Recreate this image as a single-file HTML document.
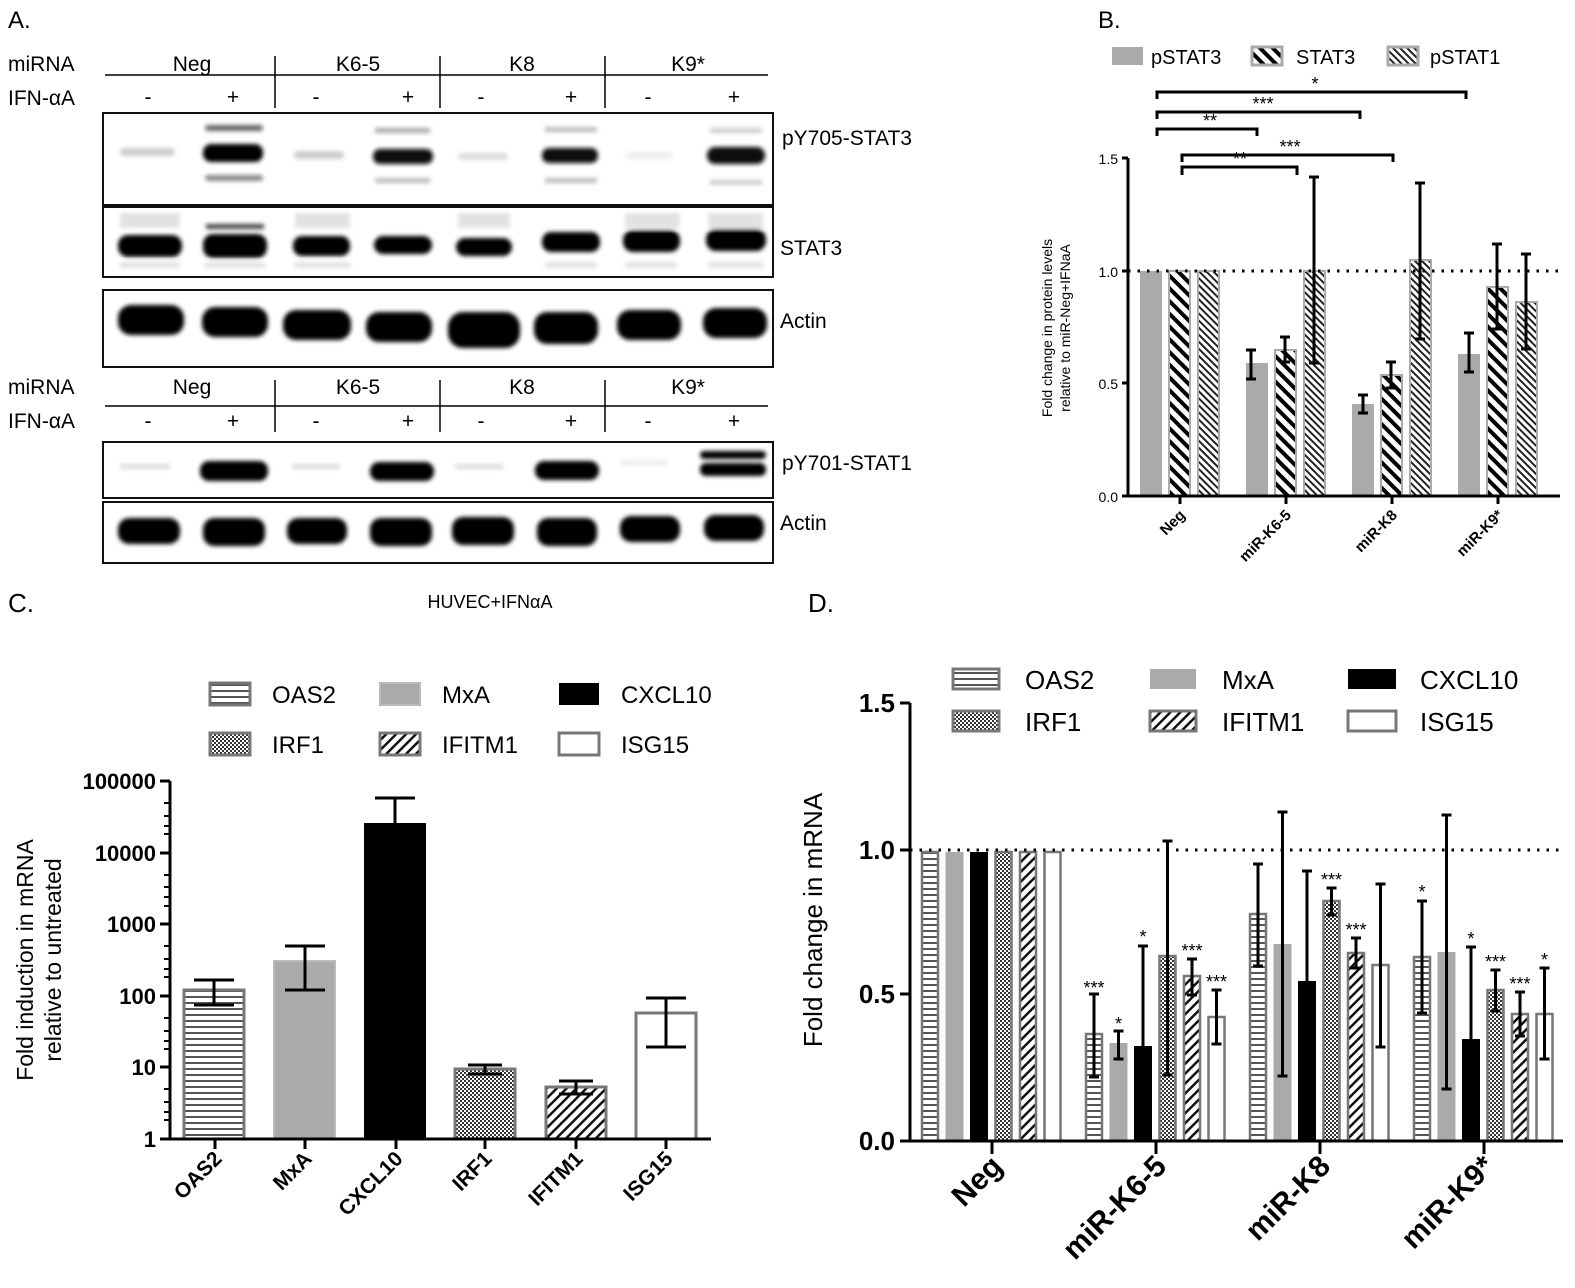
<!DOCTYPE html>
<html><head><meta charset="utf-8"><style>body{margin:0;background:#fff}svg{display:block}text{font-family:"Liberation Sans",sans-serif}</style></head><body>
<svg width="1575" height="1288" viewBox="0 0 1575 1288" xmlns="http://www.w3.org/2000/svg">
<defs>
<filter id="bl" x="-20%" y="-50%" width="140%" height="200%"><feGaussianBlur stdDeviation="2.2"/></filter>
<pattern id="hz" width="8" height="6" patternUnits="userSpaceOnUse"><rect width="8" height="6" fill="#fff"/><rect y="0" width="8" height="2" fill="#555"/></pattern>
<pattern id="ck" width="4" height="4" patternUnits="userSpaceOnUse"><rect width="4" height="4" fill="#fff"/><rect width="2" height="2" fill="#333"/><rect x="2" y="2" width="2" height="2" fill="#333"/></pattern>
<pattern id="dg" width="7" height="7" patternUnits="userSpaceOnUse" patternTransform="rotate(45)"><rect width="7" height="7" fill="#fff"/><rect width="2.5" height="7" fill="#111"/></pattern>
<pattern id="bd" width="9" height="9" patternUnits="userSpaceOnUse" patternTransform="rotate(-45)"><rect width="9" height="9" fill="#fff"/><rect width="4" height="9" fill="#000"/></pattern>
<pattern id="bd2" width="5" height="5" patternUnits="userSpaceOnUse" patternTransform="rotate(-45)"><rect width="5" height="5" fill="#fff"/><rect width="2" height="5" fill="#222"/></pattern>
</defs>

<!-- Panel A -->
<text x="8" y="28" font-size="24">A.</text>
<g font-size="21">
<text x="8" y="71">miRNA</text><text x="8" y="105">IFN-αA</text>
<text x="192" y="71" text-anchor="middle">Neg</text><text x="358" y="71" text-anchor="middle">K6-5</text><text x="522" y="71" text-anchor="middle">K8</text><text x="688" y="71" text-anchor="middle">K9*</text>
<g text-anchor="middle"><text x="148" y="104">-</text><text x="233" y="104">+</text><text x="316" y="104">-</text><text x="408" y="104">+</text><text x="481" y="104">-</text><text x="571" y="104">+</text><text x="648" y="104">-</text><text x="734" y="104">+</text></g>
<text x="8" y="394">miRNA</text><text x="8" y="428">IFN-αA</text>
<text x="192" y="394" text-anchor="middle">Neg</text><text x="358" y="394" text-anchor="middle">K6-5</text><text x="522" y="394" text-anchor="middle">K8</text><text x="688" y="394" text-anchor="middle">K9*</text>
<g text-anchor="middle"><text x="148" y="428">-</text><text x="233" y="428">+</text><text x="316" y="428">-</text><text x="408" y="428">+</text><text x="481" y="428">-</text><text x="571" y="428">+</text><text x="648" y="428">-</text><text x="734" y="428">+</text></g>
<text x="782" y="145">pY705-STAT3</text><text x="780" y="255">STAT3</text><text x="780" y="328">Actin</text><text x="782" y="470">pY701-STAT1</text><text x="780" y="530">Actin</text>
</g>
<g stroke="#000" stroke-width="1.5">
<line x1="105" y1="75" x2="768" y2="75"/><line x1="275" y1="56" x2="275" y2="108"/><line x1="440" y1="56" x2="440" y2="108"/><line x1="605" y1="56" x2="605" y2="108"/>
<line x1="105" y1="406" x2="768" y2="406"/><line x1="275" y1="380" x2="275" y2="432"/><line x1="440" y1="380" x2="440" y2="432"/><line x1="605" y1="380" x2="605" y2="432"/>
</g>
<g fill="none" stroke="#111" stroke-width="2">
<rect x="103" y="113" width="670" height="92"/><rect x="103" y="207" width="670" height="70"/><rect x="103" y="290" width="670" height="77"/><rect x="103" y="442" width="670" height="56"/><rect x="103" y="502" width="670" height="61"/>
</g>
<g filter="url(#bl)">
<rect x="120" y="148" width="55" height="8" rx="4" fill="#ccc"/>
<rect x="203" y="144" width="60" height="18" rx="8" fill="#000"/><rect x="205" y="125" width="58" height="6" rx="3" fill="#666"/><rect x="205" y="175" width="58" height="6" rx="3" fill="#888"/>
<rect x="294" y="151" width="50" height="8" rx="4" fill="#ccc"/>
<rect x="373" y="149" width="60" height="15" rx="7" fill="#111"/><rect x="375" y="128" width="55" height="5" fill="#aaa"/><rect x="375" y="178" width="55" height="5" fill="#bbb"/>
<rect x="458" y="153" width="50" height="7" rx="4" fill="#ddd"/>
<rect x="542" y="148" width="56" height="15" rx="7" fill="#111"/><rect x="545" y="127" width="52" height="5" fill="#bbb"/><rect x="545" y="178" width="52" height="5" fill="#bbb"/>
<rect x="625" y="152" width="48" height="7" rx="4" fill="#eee"/>
<rect x="707" y="147" width="58" height="17" rx="8" fill="#111"/><rect x="710" y="128" width="52" height="5" fill="#ccc"/><rect x="710" y="180" width="52" height="5" fill="#ccc"/>
</g>
<g filter="url(#bl)">
<g fill="#e2e2e2"><rect x="120" y="213" width="60" height="15"/><rect x="295" y="213" width="55" height="15"/><rect x="458" y="213" width="52" height="15"/><rect x="625" y="213" width="55" height="15"/><rect x="708" y="213" width="55" height="15"/><rect x="120" y="262" width="60" height="6"/><rect x="205" y="262" width="60" height="6"/><rect x="295" y="262" width="55" height="6"/><rect x="545" y="262" width="52" height="6"/><rect x="625" y="262" width="52" height="6"/><rect x="708" y="262" width="55" height="6"/></g>
<rect x="118" y="235" width="64" height="22" rx="10" fill="#000"/><rect x="203" y="234" width="64" height="24" rx="10" fill="#000"/><rect x="206" y="224" width="58" height="5" fill="#444"/>
<rect x="293" y="236" width="57" height="20" rx="9" fill="#000"/><rect x="374" y="236" width="58" height="18" rx="9" fill="#000"/>
<rect x="456" y="238" width="56" height="18" rx="9" fill="#000"/><rect x="542" y="232" width="58" height="20" rx="9" fill="#000"/>
<rect x="623" y="230" width="57" height="22" rx="10" fill="#000"/><rect x="706" y="229" width="60" height="22" rx="10" fill="#000"/>
</g>
<g filter="url(#bl)" fill="#000">
<rect x="118" y="305" width="66" height="30" rx="13"/><rect x="202" y="307" width="66" height="30" rx="13"/><rect x="283" y="310" width="68" height="30" rx="13"/><rect x="366" y="312" width="66" height="30" rx="13"/><rect x="448" y="312" width="72" height="36" rx="15"/><rect x="534" y="312" width="64" height="32" rx="13"/><rect x="617" y="310" width="64" height="30" rx="13"/><rect x="703" y="308" width="64" height="30" rx="13"/>
</g>
<g filter="url(#bl)">
<rect x="120" y="464" width="50" height="5" fill="#ddd"/><rect x="200" y="461" width="68" height="20" rx="9" fill="#000"/>
<rect x="292" y="464" width="48" height="5" fill="#ddd"/><rect x="370" y="462" width="64" height="19" rx="9" fill="#000"/>
<rect x="455" y="464" width="48" height="5" fill="#ddd"/><rect x="535" y="461" width="64" height="19" rx="9" fill="#000"/>
<rect x="620" y="460" width="48" height="5" fill="#eee"/><rect x="700" y="451" width="66" height="8" rx="4" fill="#000"/><rect x="700" y="463" width="66" height="13" rx="6" fill="#000"/>
</g>
<g filter="url(#bl)" fill="#000">
<rect x="118" y="518" width="62" height="26" rx="11"/><rect x="203" y="518" width="62" height="28" rx="11"/><rect x="287" y="518" width="60" height="26" rx="11"/><rect x="370" y="518" width="62" height="28" rx="11"/><rect x="452" y="517" width="62" height="28" rx="11"/><rect x="537" y="518" width="60" height="28" rx="11"/><rect x="620" y="516" width="60" height="26" rx="11"/><rect x="704" y="515" width="60" height="26" rx="11"/>
</g>

<!-- Panel B -->
<text x="1098" y="28" font-size="24">B.</text>
<rect x="1112" y="47" width="31" height="18" fill="#aaa"/><text x="1151" y="64" font-size="20">pSTAT3</text>
<rect x="1252" y="47" width="30" height="18" fill="url(#bd)" stroke="#aaa" stroke-width="3"/><text x="1296" y="64" font-size="20">STAT3</text>
<rect x="1388" y="47" width="30" height="18" fill="url(#bd2)" stroke="#aaa" stroke-width="3"/><text x="1430" y="64" font-size="20">pSTAT1</text>
<g stroke="#000" stroke-width="3" fill="none">
<polyline points="1157,99 1157,92 1466,92 1466,99"/>
<polyline points="1157,119 1157,112 1360,112 1360,119"/>
<polyline points="1157,136 1157,129 1257,129 1257,136"/>
<polyline points="1182,162 1182,155 1393,155 1393,162"/>
<polyline points="1182,175 1182,167 1297,167 1297,175"/>
</g>
<g font-size="18" text-anchor="middle"><text x="1315" y="90">*</text><text x="1263" y="110">***</text><text x="1210" y="127">**</text><text x="1290" y="153">***</text><text x="1240" y="165">**</text></g>
<g>
<rect x="1140" y="271" width="22" height="225" fill="#aaa"/>
<rect x="1169" y="271" width="21" height="225" fill="url(#bd)" stroke="#aaa" stroke-width="2"/>
<rect x="1198" y="271" width="21" height="225" fill="url(#bd2)" stroke="#aaa" stroke-width="2"/>
<rect x="1246" y="363" width="22" height="133" fill="#aaa"/>
<rect x="1275" y="350" width="21" height="146" fill="url(#bd)" stroke="#aaa" stroke-width="2"/>
<rect x="1304" y="271" width="21" height="225" fill="url(#bd2)" stroke="#aaa" stroke-width="2"/>
<rect x="1352" y="404" width="22" height="92" fill="#aaa"/>
<rect x="1381" y="375" width="21" height="121" fill="url(#bd)" stroke="#aaa" stroke-width="2"/>
<rect x="1410" y="260" width="21" height="236" fill="url(#bd2)" stroke="#aaa" stroke-width="2"/>
<rect x="1458" y="354" width="22" height="142" fill="#aaa"/>
<rect x="1487" y="287" width="21" height="209" fill="url(#bd)" stroke="#aaa" stroke-width="2"/>
<rect x="1516" y="302" width="21" height="194" fill="url(#bd2)" stroke="#aaa" stroke-width="2"/>
</g>
<line x1="1128" y1="271" x2="1560" y2="271" stroke="#000" stroke-width="3" stroke-dasharray="2.5,7"/>
<g stroke="#000" stroke-width="3" fill="none">
<path d="M1251,350V379M1246,350h10M1246,379h10"/>
<path d="M1285,337V362M1280,337h10M1280,362h10"/>
<path d="M1314,177V363M1309,177h10M1309,363h10"/>
<path d="M1363,395V413M1358,395h10M1358,413h10"/>
<path d="M1391,362V388M1386,362h10M1386,388h10"/>
<path d="M1420,183V339M1415,183h10M1415,339h10"/>
<path d="M1469,333V372M1464,333h10M1464,372h10"/>
<path d="M1497,244V329M1492,244h10M1492,329h10"/>
<path d="M1526,254V349M1521,254h10M1521,349h10"/>
<path d="M1128,158V496H1560"/>
<path d="M1122,158h6M1122,271h6M1122,383h6M1122,496h6"/>
<path d="M1180,496v8M1286,496v8M1392,496v8M1498,496v8"/>
</g>
<g font-size="14" text-anchor="end"><text x="1118" y="164">1.5</text><text x="1118" y="277">1.0</text><text x="1118" y="389">0.5</text><text x="1118" y="502">0.0</text></g>
<text transform="translate(1052,328) rotate(-90)" font-size="14" text-anchor="middle">Fold change in  protein levels</text>
<text transform="translate(1070,328) rotate(-90)" font-size="14" text-anchor="middle">relative to miR-Neg+IFNaA</text>
<g font-size="15" font-weight="bold" text-anchor="end">
<text transform="translate(1186,516) rotate(-45)">Neg</text>
<text transform="translate(1292,516) rotate(-45)">miR-K6-5</text>
<text transform="translate(1398,516) rotate(-45)">miR-K8</text>
<text transform="translate(1504,516) rotate(-45)">miR-K9*</text>
</g>

<!-- Panel C -->
<text x="8" y="612" font-size="26">C.</text>
<text x="490" y="608" font-size="18" text-anchor="middle">HUVEC+IFNαA</text>
<g font-size="24">
<rect x="210" y="683" width="40" height="22" fill="url(#hz)" stroke="#777" stroke-width="3"/><text x="272" y="703">OAS2</text>
<rect x="380" y="683" width="40" height="22" fill="#aaa" stroke="#bbb" stroke-width="2"/><text x="442" y="703">MxA</text>
<rect x="559" y="683" width="40" height="22" fill="#000"/><text x="621" y="703">CXCL10</text>
<rect x="210" y="733" width="40" height="22" fill="url(#ck)" stroke="#777" stroke-width="3"/><text x="272" y="753">IRF1</text>
<rect x="380" y="733" width="40" height="22" fill="url(#dg)" stroke="#777" stroke-width="3"/><text x="442" y="753">IFITM1</text>
<rect x="559" y="733" width="40" height="22" fill="#fff" stroke="#777" stroke-width="3"/><text x="621" y="753">ISG15</text>
</g>
<g stroke-width="3">
<rect x="184" y="990" width="60" height="149" fill="url(#hz)" stroke="#777"/>
<rect x="274" y="961" width="61" height="178" fill="#aaa" stroke="#bbb" stroke-width="2"/>
<rect x="364" y="823" width="62" height="316" fill="#000"/>
<rect x="455" y="1069" width="60" height="70" fill="url(#ck)" stroke="#777"/>
<rect x="546" y="1087" width="60" height="52" fill="url(#dg)" stroke="#777"/>
<rect x="636" y="1013" width="60" height="126" fill="#fff" stroke="#777"/>
</g>
<g stroke="#000" stroke-width="3" fill="none">
<path d="M214,980V1005M194,980h40M194,1005h40"/>
<path d="M305,946V990M285,946h40M285,990h40"/>
<path d="M395,798V823M375,798h40"/>
<path d="M485,1065V1074M468,1065h34M468,1074h34"/>
<path d="M576,1081V1094M559,1081h34M559,1094h34"/>
<path d="M666,998V1047M646,998h40M646,1047h40"/>
<path d="M170,781V1139H711"/>
<path d="M215,1139v10M305,1139v10M396,1139v10M485,1139v10M576,1139v10M666,1139v10"/>
<path d="M160,781h10M160,853h10M160,924h10M160,996h10M160,1067h10M160,1139h10"/>
</g>
<g stroke="#000" stroke-width="2"><path d="M164,803h6M164,816h6M164,826h6M164,834h6M164,875h6M164,887h6M164,897h6M164,906h6M164,946h6M164,959h6M164,969h6M164,977h6M164,1018h6M164,1031h6M164,1041h6M164,1049h6M164,1089h6M164,1102h6M164,1112h6M164,1120h6"/></g>
<g font-size="22" font-weight="bold" text-anchor="end"><text x="156" y="789">100000</text><text x="156" y="861">10000</text><text x="156" y="932">1000</text><text x="156" y="1004">100</text><text x="156" y="1075">10</text><text x="156" y="1147">1</text></g>
<text transform="translate(33,960) rotate(-90)" font-size="23" text-anchor="middle">Fold induction in mRNA</text>
<text transform="translate(61,960) rotate(-90)" font-size="23" text-anchor="middle">relative to untreated</text>
<g font-size="21" font-weight="bold" text-anchor="end">
<text transform="translate(223,1160) rotate(-45)">OAS2</text>
<text transform="translate(313,1160) rotate(-45)">MxA</text>
<text transform="translate(404,1160) rotate(-45)">CXCL10</text>
<text transform="translate(493,1160) rotate(-45)">IRF1</text>
<text transform="translate(584,1160) rotate(-45)">IFITM1</text>
<text transform="translate(674,1160) rotate(-45)">ISG15</text>
</g>

<!-- Panel D -->
<text x="808" y="612" font-size="26">D.</text>
<g font-size="26">
<rect x="953" y="669" width="46" height="20" fill="url(#hz)" stroke="#777" stroke-width="3"/><text x="1025" y="689">OAS2</text>
<rect x="1150" y="669" width="46" height="20" fill="#aaa"/><text x="1222" y="689">MxA</text>
<rect x="1348" y="669" width="48" height="20" fill="#000"/><text x="1420" y="689">CXCL10</text>
<rect x="953" y="711" width="46" height="20" fill="url(#ck)" stroke="#777" stroke-width="3"/><text x="1025" y="731">IRF1</text>
<rect x="1150" y="711" width="46" height="20" fill="url(#dg)" stroke="#777" stroke-width="3"/><text x="1222" y="731">IFITM1</text>
<rect x="1348" y="711" width="48" height="20" fill="#fff" stroke="#777" stroke-width="3"/><text x="1420" y="731">ISG15</text>
</g>
<g stroke-width="2.5">
<rect x="922" y="852" width="16" height="289" fill="url(#hz)" stroke="#777"/>
<rect x="945.5" y="852" width="18" height="289" fill="#aaa"/>
<rect x="970" y="852" width="18" height="289" fill="#000"/>
<rect x="995.5" y="852" width="16" height="289" fill="url(#ck)" stroke="#777"/>
<rect x="1020" y="852" width="16" height="289" fill="url(#dg)" stroke="#777"/>
<rect x="1044.5" y="852" width="16" height="289" fill="#fff" stroke="#777"/>

<rect x="1086" y="1034" width="16" height="107" fill="url(#hz)" stroke="#777"/>
<rect x="1109.5" y="1043" width="18" height="98" fill="#aaa"/>
<rect x="1134" y="1046" width="18" height="95" fill="#000"/>
<rect x="1159.5" y="956" width="16" height="185" fill="url(#ck)" stroke="#777"/>
<rect x="1184" y="976" width="16" height="165" fill="url(#dg)" stroke="#777"/>
<rect x="1208.5" y="1017" width="16" height="124" fill="#fff" stroke="#777"/>

<rect x="1250" y="914" width="16" height="227" fill="url(#hz)" stroke="#777"/>
<rect x="1273.5" y="944" width="18" height="197" fill="#aaa"/>
<rect x="1298" y="981" width="18" height="160" fill="#000"/>
<rect x="1323.5" y="901" width="16" height="240" fill="url(#ck)" stroke="#777"/>
<rect x="1348" y="953" width="16" height="188" fill="url(#dg)" stroke="#777"/>
<rect x="1372.5" y="965" width="16" height="176" fill="#fff" stroke="#777"/>

<rect x="1414" y="957" width="16" height="184" fill="url(#hz)" stroke="#777"/>
<rect x="1437.5" y="952" width="18" height="189" fill="#aaa"/>
<rect x="1462" y="1039" width="18" height="102" fill="#000"/>
<rect x="1487.5" y="990" width="16" height="151" fill="url(#ck)" stroke="#777"/>
<rect x="1512" y="1014" width="16" height="127" fill="url(#dg)" stroke="#777"/>
<rect x="1536.5" y="1014" width="16" height="127" fill="#fff" stroke="#777"/>
</g>
<line x1="910" y1="850" x2="1565" y2="850" stroke="#000" stroke-width="3" stroke-dasharray="2.5,7"/>
<g stroke="#000" stroke-width="3" fill="none">
<path d="M1094,994V1077M1089,994h10M1089,1077h10"/>
<path d="M1118.5,1031V1059M1113.5,1031h10M1113.5,1059h10"/>
<path d="M1143,946V1046M1138,946h10"/>
<path d="M1167.5,841V1075M1162.5,841h10M1162.5,1075h10"/>
<path d="M1192,959V995M1187,959h10M1187,995h10"/>
<path d="M1216.5,990V1044M1211.5,990h10M1211.5,1044h10"/>
<path d="M1258,864V966M1253,864h10M1253,966h10"/>
<path d="M1282.5,812V1076M1277.5,812h10M1277.5,1076h10"/>
<path d="M1307,871V981M1302,871h10"/>
<path d="M1331.5,888V915M1326.5,888h10M1326.5,915h10"/>
<path d="M1356,938V968M1351,938h10M1351,968h10"/>
<path d="M1380.5,884V1047M1375.5,884h10M1375.5,1047h10"/>
<path d="M1422,901V1013M1417,901h10M1417,1013h10"/>
<path d="M1446.5,815V1089M1441.5,815h10M1441.5,1089h10"/>
<path d="M1471,947V1039M1466,947h10"/>
<path d="M1495.5,970V1011M1490.5,970h10M1490.5,1011h10"/>
<path d="M1520,992V1036M1515,992h10M1515,1036h10"/>
<path d="M1544.5,968V1059M1539.5,968h10M1539.5,1059h10"/>
<path d="M910,703V1141H1563"/>
<path d="M900,703h10M900,850h10M900,994h10M900,1141h10"/>
<path d="M992,1141v13M1156,1141v13M1320,1141v13M1484,1141v13"/>
</g>
<g font-size="18" text-anchor="middle">
<text x="1094" y="994">***</text><text x="1118.5" y="1030">*</text><text x="1143" y="943">*</text><text x="1192" y="957">***</text><text x="1216.5" y="988">***</text>
<text x="1331.5" y="886">***</text><text x="1356" y="936">***</text>
<text x="1422" y="898">*</text><text x="1471" y="945">*</text><text x="1495.5" y="968">***</text><text x="1520" y="990">***</text><text x="1544.5" y="966">*</text>
</g>
<g font-size="26" font-weight="bold" text-anchor="end"><text x="895" y="712">1.5</text><text x="895" y="859">1.0</text><text x="895" y="1003">0.5</text><text x="895" y="1150">0.0</text></g>
<text transform="translate(822,920) rotate(-90)" font-size="26" text-anchor="middle">Fold change in mRNA</text>
<g font-size="30" font-weight="bold" text-anchor="end">
<text transform="translate(1004,1168) rotate(-45)">Neg</text>
<text transform="translate(1168,1168) rotate(-45)">miR-K6-5</text>
<text transform="translate(1332,1168) rotate(-45)">miR-K8</text>
<text transform="translate(1496,1168) rotate(-45)">miR-K9*</text>
</g>
</svg>
</body></html>
